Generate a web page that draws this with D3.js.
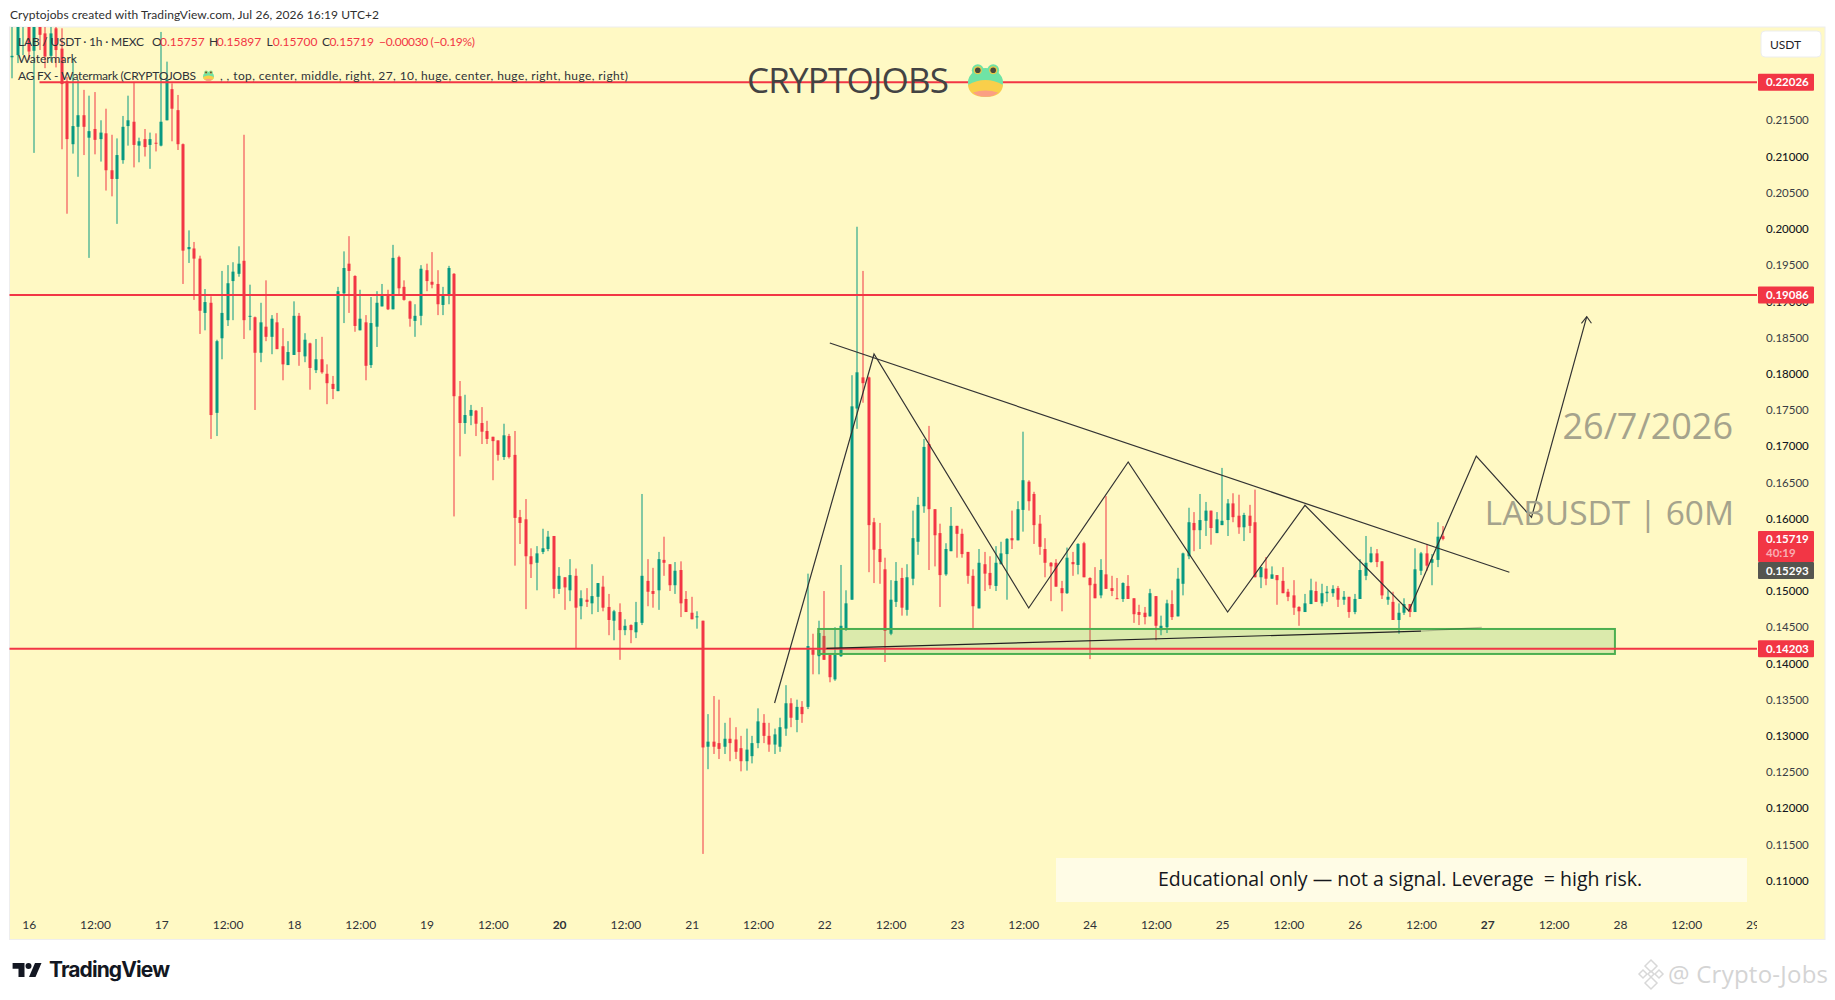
<!DOCTYPE html>
<html lang="en">
<head>
    <meta charset="utf-8">
    <title>LABUSDT 60M</title>
    <script src="https://cdn.jsdelivr.net/npm/d3@7/dist/d3.min.js"></script>
    <style>
        html, body { margin: 0; padding: 0; background: #fff; }
        svg { display: block; }
        text { font-family: Lato, "Open Sans", sans-serif; }
    </style>
</head>
<body>
<div id="chart"></div>
<script>

    // Hourly candles. Hour 0 = day 16 00:00
    var firstHour = -3;

    var opens = [
        0.2237,0.2240,0.2285,0.2279,0.2246,0.2285,0.2270,0.2239,0.2277,0.2249,
        0.2204,0.2117,0.2141,0.2157,0.2126,0.2138,0.2124,0.2132,0.2081,0.2069,
        0.2095,0.2142,0.2148,0.2115,0.2124,0.2116,0.2119,0.2115,0.2150,0.2193,
        0.2164,0.2117,0.1972,0.1973,0.1959,0.1884,0.1898,0.1746,0.1849,0.1874,
        0.1928,0.1938,0.1956,0.1879,0.1878,0.1829,0.1865,0.1851,0.1871,0.1838,
        0.1812,0.1826,0.1880,0.1824,0.1842,0.1805,0.1820,0.1800,0.1786,0.1776,
        0.1911,0.1952,0.1935,0.1860,0.1871,0.1812,0.1865,0.1893,0.1909,0.1889,
        0.1961,0.1920,0.1900,0.1873,0.1880,0.1943,0.1927,0.1924,0.1895,0.1910,
        0.1938,0.1769,0.1732,0.1742,0.1749,0.1732,0.1721,0.1713,0.1708,0.1685,
        0.1714,0.1688,0.1602,0.1599,0.1548,0.1539,0.1554,0.1558,0.1576,0.1503,
        0.1519,0.1501,0.1521,0.1479,0.1488,0.1483,0.1492,0.1506,0.1478,0.1459,
        0.1471,0.1446,0.1453,0.1443,0.1456,0.1514,0.1500,0.1501,0.1543,0.1537,
        0.1508,0.1529,0.1489,0.1470,0.1464,0.1459,0.1285,0.1292,0.1290,0.1285,
        0.1296,0.1295,0.1283,0.1265,0.1272,0.1290,0.1318,0.1300,0.1288,0.1285,
        0.1310,0.1345,0.1322,0.1340,0.1340,0.1419,0.1410,0.1438,0.1412,0.1378,
        0.1410,0.1448,0.1488,0.1752,0.1795,0.1795,0.1595,0.1558,0.1530,0.1441,
        0.1485,0.1518,0.1474,0.1517,0.1568,0.1617,0.1703,0.1613,0.1580,0.1523,
        0.1555,0.1590,0.1579,0.1554,0.1521,0.1476,0.1537,0.1525,0.1507,0.1537,
        0.1551,0.1573,0.1570,0.1612,0.1651,0.1634,0.1593,0.1558,0.1539,0.1539,
        0.1504,0.1497,0.1540,0.1536,0.1566,0.1518,0.1510,0.1494,0.1523,0.1504,
        0.1490,0.1489,0.1507,0.1490,0.1471,0.1470,0.1465,0.1493,0.1446,0.1450,
        0.1482,0.1465,0.1510,0.1548,0.1594,0.1584,0.1597,0.1611,0.1580,0.1591,
        0.1598,0.1621,0.1604,0.1588,0.1604,0.1595,0.1519,0.1531,0.1517,0.1522,
        0.1514,0.1499,0.1494,0.1478,0.1471,0.1482,0.1500,0.1483,0.1497,0.1497,
        0.1504,0.1488,0.1492,0.1471,0.1489,0.1521,0.1540,0.1552,0.1541,0.1488,
        0.1485,0.1460,0.1470,0.1482,0.1471,0.1528,0.1552,0.1539,0.1543,0.15757
    ];
    var highs = [
        0.2300,0.2300,0.2300,0.2295,0.2295,0.2295,0.2290,0.2295,0.2295,0.2277,
        0.2210,0.2236,0.2206,0.2192,0.2184,0.2189,0.2150,0.2166,0.2130,0.2125,
        0.2156,0.2184,0.2203,0.2126,0.2138,0.2133,0.2132,0.2272,0.2231,0.2201,
        0.2185,0.2118,0.1998,0.1982,0.1963,0.1917,0.1907,0.1847,0.1942,0.1950,
        0.1954,0.1976,0.2130,0.1923,0.1879,0.1898,0.1929,0.1881,0.1884,0.1863,
        0.1845,0.1900,0.1884,0.1856,0.1843,0.1848,0.1851,0.1813,0.1797,0.1920,
        0.1969,0.1990,0.1936,0.1916,0.1881,0.1906,0.1914,0.1924,0.1916,0.1978,
        0.1963,0.1929,0.1901,0.1896,0.1950,0.1952,0.1968,0.1943,0.1920,0.1949,
        0.1939,0.1790,0.1771,0.1757,0.1750,0.1754,0.1735,0.1713,0.1708,0.1731,
        0.1717,0.1721,0.1612,0.1627,0.1559,0.1562,0.1586,0.1583,0.1576,0.1533,
        0.1519,0.1544,0.1531,0.1501,0.1504,0.1537,0.1511,0.1521,0.1496,0.1474,
        0.1483,0.1461,0.1454,0.1485,0.1634,0.1544,0.1532,0.1554,0.1575,0.1537,
        0.1540,0.1541,0.1500,0.1492,0.1472,0.1459,0.1330,0.1355,0.1350,0.1318,
        0.1325,0.1312,0.1300,0.1310,0.1300,0.1338,0.1330,0.1318,0.1310,0.1325,
        0.1370,0.1352,0.1350,0.1348,0.1524,0.1441,0.1459,0.1500,0.1412,0.1450,
        0.1536,0.1501,0.1798,0.2003,0.1942,0.1796,0.1601,0.1594,0.1546,0.1515,
        0.1540,0.1532,0.1537,0.1611,0.1630,0.1710,0.1728,0.1613,0.1593,0.1566,
        0.1616,0.1590,0.1586,0.1554,0.1530,0.1558,0.1554,0.1548,0.1562,0.1568,
        0.1573,0.1611,0.1624,0.1720,0.1653,0.1637,0.1605,0.1573,0.1540,0.1544,
        0.1514,0.1560,0.1554,0.1566,0.1568,0.1519,0.1533,0.1544,0.1631,0.1521,
        0.1518,0.1512,0.1522,0.1490,0.1481,0.1478,0.1503,0.1493,0.1466,0.1488,
        0.1501,0.1532,0.1553,0.1615,0.1609,0.1634,0.1623,0.1611,0.1609,0.1670,
        0.1627,0.1635,0.1633,0.1608,0.1619,0.1640,0.1533,0.1547,0.1534,0.1522,
        0.1533,0.1503,0.1515,0.1479,0.1496,0.1517,0.1513,0.1510,0.1507,0.1508,
        0.1507,0.1500,0.1492,0.1496,0.1544,0.1576,0.1561,0.1558,0.1541,0.1501,
        0.1499,0.1483,0.1490,0.1482,0.1559,0.1554,0.1565,0.1551,0.1595,0.15897
    ];
    var lows = [
        0.2208,0.2229,0.2240,0.2233,0.2105,0.2247,0.2222,0.2231,0.2223,0.2110,
        0.2021,0.2104,0.2072,0.2102,0.1960,0.2103,0.2093,0.2053,0.2045,0.2007,
        0.2090,0.2115,0.2085,0.2092,0.2100,0.2083,0.2107,0.2114,0.2150,0.2121,
        0.2109,0.1924,0.1953,0.1902,0.1855,0.1860,0.1710,0.1714,0.1820,0.1866,
        0.1874,0.1934,0.1848,0.1860,0.1750,0.1816,0.1845,0.1827,0.1834,0.1791,
        0.1812,0.1826,0.1811,0.1816,0.1778,0.1801,0.1800,0.1758,0.1765,0.1776,
        0.1870,0.1884,0.1858,0.1860,0.1791,0.1808,0.1837,0.1893,0.1888,0.1889,
        0.1910,0.1901,0.1865,0.1851,0.1867,0.1914,0.1918,0.1881,0.1881,0.1896,
        0.1603,0.1686,0.1717,0.1729,0.1714,0.1703,0.1703,0.1653,0.1680,0.1681,
        0.1683,0.1535,0.1565,0.1475,0.1518,0.1501,0.1551,0.1555,0.1490,0.1496,
        0.1474,0.1486,0.1421,0.1461,0.1478,0.1468,0.1471,0.1472,0.1439,0.1432,
        0.1405,0.1439,0.1428,0.1435,0.1453,0.1479,0.1477,0.1474,0.1521,0.1500,
        0.1496,0.1464,0.1471,0.1461,0.1448,0.1137,0.1254,0.1275,0.1268,0.1275,
        0.1265,0.1268,0.1251,0.1252,0.1262,0.1283,0.1290,0.1278,0.1275,0.1278,
        0.1300,0.1312,0.1305,0.1318,0.1337,0.1385,0.1385,0.1405,0.1374,0.1376,
        0.1409,0.1445,0.1488,0.1724,0.1760,0.1526,0.1511,0.1510,0.1402,0.1439,
        0.1478,0.1466,0.1466,0.1508,0.1550,0.1608,0.1529,0.1534,0.1478,0.1521,
        0.1555,0.1546,0.1546,0.1510,0.1449,0.1476,0.1500,0.1503,0.1500,0.1537,
        0.1488,0.1558,0.1570,0.1582,0.1611,0.1565,0.1550,0.1519,0.1486,0.1506,
        0.1472,0.1496,0.1521,0.1523,0.1519,0.1406,0.1490,0.1490,0.1503,0.1493,
        0.1489,0.1485,0.1489,0.1456,0.1453,0.1454,0.1465,0.1432,0.1439,0.1442,
        0.1460,0.1465,0.1494,0.1544,0.1555,0.1558,0.1576,0.1564,0.1580,0.1591,
        0.1576,0.1595,0.1579,0.1569,0.1580,0.1519,0.1504,0.1508,0.1517,0.1481,
        0.1497,0.1486,0.1467,0.1452,0.1471,0.1482,0.1485,0.1479,0.1485,0.1492,
        0.1478,0.1481,0.1463,0.1468,0.1489,0.1515,0.1539,0.1533,0.1489,0.1481,
        0.1460,0.1441,0.1467,0.1464,0.1471,0.1522,0.1528,0.1508,0.1533,0.15700
    ];
    var closes = [
        0.2239,0.2290,0.2288,0.2245,0.2290,0.2268,0.2238,0.2270,0.2247,0.2200,
        0.2124,0.2142,0.2157,0.2141,0.2135,0.2123,0.2133,0.2081,0.2069,0.2102,
        0.2141,0.2150,0.2116,0.2121,0.2113,0.2124,0.2118,0.2148,0.2206,0.2166,
        0.2117,0.1970,0.1975,0.1959,0.1887,0.1899,0.1743,0.1845,0.1884,0.1925,
        0.1941,0.1952,0.1874,0.1880,0.1829,0.1871,0.1851,0.1876,0.1834,0.1813,
        0.1830,0.1880,0.1830,0.1847,0.1808,0.1820,0.1802,0.1787,0.1779,0.1914,
        0.1946,0.1942,0.1866,0.1876,0.1811,0.1870,0.1898,0.1909,0.1889,0.1960,
        0.1918,0.1902,0.1876,0.1880,0.1945,0.1928,0.1923,0.1896,0.1910,0.1946,
        0.1769,0.1732,0.1743,0.1750,0.1731,0.1720,0.1710,0.1707,0.1688,0.1715,
        0.1685,0.1601,0.1594,0.1548,0.1537,0.1552,0.1559,0.1575,0.1503,0.1521,
        0.1505,0.1522,0.1477,0.1490,0.1485,0.1493,0.1511,0.1477,0.1460,0.1472,
        0.1446,0.1452,0.1446,0.1457,0.1521,0.1499,0.1496,0.1544,0.1539,0.1508,
        0.1528,0.1483,0.1471,0.1461,0.1465,0.1284,0.1292,0.1285,0.1282,0.1296,
        0.1290,0.1278,0.1265,0.1281,0.1290,0.1320,0.1300,0.1288,0.1302,0.1312,
        0.1345,0.1325,0.1340,0.1330,0.1424,0.1412,0.1442,0.1405,0.1381,0.1412,
        0.1452,0.1483,0.1755,0.1802,0.1787,0.1591,0.1557,0.1540,0.1445,0.1488,
        0.1514,0.1477,0.1519,0.1573,0.1619,0.1699,0.1613,0.1577,0.1522,0.1558,
        0.1590,0.1579,0.1551,0.1521,0.1479,0.1539,0.1524,0.1508,0.1539,0.1552,
        0.1572,0.1570,0.1613,0.1653,0.1624,0.1591,0.1561,0.1539,0.1534,0.1506,
        0.1497,0.1546,0.1537,0.1565,0.1519,0.1508,0.1490,0.1529,0.1503,0.1500,
        0.1489,0.1511,0.1489,0.1468,0.1467,0.1464,0.1497,0.1452,0.1452,0.1483,
        0.1464,0.1517,0.1552,0.1595,0.1584,0.1598,0.1611,0.1587,0.1599,0.1597,
        0.1621,0.1602,0.1588,0.1605,0.1590,0.1519,0.1533,0.1517,0.1523,0.1515,
        0.1497,0.1492,0.1477,0.1472,0.1483,0.1501,0.1485,0.1497,0.1499,0.1503,
        0.1488,0.1492,0.1471,0.1489,0.1529,0.1539,0.1552,0.1540,0.1494,0.1492,
        0.1460,0.1470,0.1482,0.1471,0.1530,0.1552,0.1535,0.1544,0.1575,0.15719
    ];

    // Levels and drawings, in hours and prices
    var levelPrices = [0.22026, 0.19086, 0.14203];
    var zigzagHours = [135, 153, 181, 199, 217, 231, 249.8, 262, 272, 282];
    var zigzagPrices = [0.13454, 0.18273, 0.14766, 0.16782, 0.14710, 0.16184, 0.14724, 0.16864, 0.16018, 0.18788];
    var trendHours = [145, 268];
    var trendPrices = [0.18425, 0.15259];
    var floorHours = [144.4, 252];
    var floorPrices = [0.14209, 0.14445];
    var floorFadeHours = [252, 263];
    var floorFadePrices = [0.14445, 0.14499];
    var zoneHours = [142.9, 287.1];
    var zonePrices = [0.14476, 0.14131];

    // 0.155 sits fully under the price tags, so it is not listed
    var priceTicks = [0.11, 0.115, 0.12, 0.125, 0.13, 0.135, 0.14, 0.145, 0.15, 0.16, 0.165, 0.17,
        0.175, 0.18, 0.185, 0.19, 0.195, 0.2, 0.205, 0.21, 0.215];
    var dayLabels = ['16', '17', '18', '19', '20', '21', '22', '23', '24', '25', '26', '27', '28', '29'];
    var boldDays = ['20', '27'];

    var width = 1835,
        height = 1000,
        plotLeft = 9.5,
        plotRight = 1757,
        plotTop = 27,
        plotBottom = 939;

    var red = '#f23645',
        green = '#089981',
        ink = '#333333',
        paper = '#fff9c4';

    var x = d3.scaleLinear().domain([0, 312]).range([28.7, 1752.5]);
    var y = d3.scaleLinear().domain([0.21, 0.11]).range([156.5, 880.7]);

    var svg = d3.select('#chart').append('svg')
        .attr('width', width)
        .attr('height', height);

    var defs = svg.append('defs');
    defs.append('clipPath').attr('id', 'plot-clip').append('rect')
        .attr('x', plotLeft).attr('y', plotTop)
        .attr('width', plotRight - plotLeft).attr('height', plotBottom - plotTop);

    // Page header and panel
    svg.append('text')
        .attr('x', 10).attr('y', 19)
        .attr('font-size', 12).attr('fill', '#2f2f2f')
        .attr('textLength', 369)
        .text('Cryptojobs created with TradingView.com, Jul 26, 2026 16:19 UTC+2');

    svg.append('rect')
        .attr('x', 9.5).attr('y', 27)
        .attr('width', 1815.5).attr('height', 912.5)
        .attr('fill', paper).attr('stroke', '#eeeeee');

    // Candles
    var candles = svg.append('g').attr('clip-path', 'url(#plot-clip)')
        .selectAll('g.candle')
        .data(opens)
        .enter()
        .append('g')
        .attr('class', 'candle')
        .attr('fill', function(d, i) { return closes[i] >= d ? green : red; });

    candles.append('rect')
        .attr('x', function(d, i) { return Math.round(x(firstHour + i)) - 0.5; })
        .attr('width', 1)
        .attr('y', function(d, i) { return y(highs[i]); })
        .attr('height', function(d, i) { return y(lows[i]) - y(highs[i]); });

    candles.append('rect')
        .attr('x', function(d, i) { return Math.round(x(firstHour + i)) - 1.5; })
        .attr('width', 3)
        .attr('y', function(d, i) { return y(Math.max(d, closes[i])); })
        .attr('height', function(d, i) { return Math.max(1, Math.abs(y(d) - y(closes[i]))); });

    // Support zone
    svg.append('rect')
        .attr('x', x(zoneHours[0]))
        .attr('y', y(zonePrices[0]))
        .attr('width', x(zoneHours[1]) - x(zoneHours[0]))
        .attr('height', y(zonePrices[1]) - y(zonePrices[0]))
        .attr('fill', '#4caf50').attr('fill-opacity', 0.2)
        .attr('stroke', '#4caf50').attr('stroke-width', 2);

    // Horizontal levels
    svg.selectAll('line.level')
        .data(levelPrices)
        .enter()
        .append('line')
        .attr('class', 'level')
        .attr('x1', function(d, i) { return i === 0 ? 39.5 : plotLeft; })
        .attr('x2', plotRight)
        .attr('y1', function(d) { return y(d); })
        .attr('y2', function(d) { return y(d); })
        .attr('stroke', red).attr('stroke-width', 2);

    // Hand drawn lines
    var line = d3.line()
        .x(function(d) { return x(d[0]); })
        .y(function(d) { return y(d[1]); });

    svg.append('path')
        .attr('d', line(d3.zip(floorHours, floorPrices)))
        .attr('fill', 'none').attr('stroke', '#222').attr('stroke-width', 1.2);
    svg.append('path')
        .attr('d', line(d3.zip(floorFadeHours, floorFadePrices)))
        .attr('fill', 'none').attr('stroke', '#222').attr('stroke-opacity', 0.25).attr('stroke-width', 1.2);
    svg.append('path')
        .attr('d', line(d3.zip(trendHours, trendPrices)))
        .attr('fill', 'none').attr('stroke', ink).attr('stroke-width', 1.2);
    svg.append('path')
        .attr('d', line(d3.zip(zigzagHours, zigzagPrices)))
        .attr('fill', 'none').attr('stroke', ink).attr('stroke-width', 1.2);

    // Arrow head at the last zigzag point
    var tipX = x(zigzagHours[zigzagHours.length - 1]),
        tipY = y(zigzagPrices[zigzagPrices.length - 1]);
    svg.append('path')
        .attr('d', 'M' + (tipX - 5.3) + ',' + (tipY + 6.6) + 'L' + tipX + ',' + tipY + 'L' + (tipX + 4.7) + ',' + (tipY + 6.6))
        .attr('fill', 'none').attr('stroke', ink).attr('stroke-width', 1.1);

    // Price axis
    var priceAxis = d3.axisRight(y)
        .tickValues(priceTicks)
        .tickSize(0)
        .tickPadding(0)
        .tickFormat(d3.format('.5f'));

    var priceG = svg.append('g')
        .attr('transform', 'translate(1766,0)')
        .call(priceAxis);
    priceG.select('.domain').remove();
    priceG.selectAll('text')
        .attr('font-size', 11.5)
        .style('font-family', 'Lato, sans-serif')
        .attr('fill', function(d) { return Math.abs(d * 100 - Math.round(d * 100)) < 1e-6 ? '#131722' : '#3a3d45'; })
        .attr('font-weight', function(d) { return Math.abs(d * 100 - Math.round(d * 100)) < 1e-6 ? 500 : 400; });

    // Time axis
    var timeTicks = d3.range(0, 312, 12).concat([312]);
    var timeAxis = d3.axisBottom(x)
        .tickValues(timeTicks)
        .tickSize(0)
        .tickPadding(0)
        .tickFormat(function(d) { return d % 24 === 0 ? dayLabels[d / 24] : '12:00'; });

    defs.append('clipPath').attr('id', 'time-clip').append('rect')
        .attr('x', 0).attr('y', 900).attr('width', plotRight).attr('height', 60);

    var timeWrap = svg.append('g').attr('clip-path', 'url(#time-clip)');
    var timeG = timeWrap.append('g')
        .attr('transform', 'translate(0,920)')
        .call(timeAxis);
    timeG.select('.domain').remove();
    timeG.selectAll('text')
        .attr('font-size', 12)
        .style('font-family', 'Lato, sans-serif')
        .attr('fill', '#2f3238')
        .attr('font-weight', function(d) { return boldDays.indexOf(dayLabels[d / 24]) >= 0 ? 700 : 400; });

    // Price tags on the axis
    function priceTag(top, tagHeight, fill, lines) {
        svg.append('rect')
            .attr('x', 1758).attr('y', top)
            .attr('width', 56).attr('height', tagHeight)
            .attr('fill', fill).attr('rx', 1);
        lines.forEach(function(l) {
            svg.append('text')
                .attr('x', 1766).attr('y', l.y)
                .attr('font-size', 11.5).attr('font-weight', 700)
                .attr('fill', '#fff').attr('fill-opacity', l.alpha || 1)
                .text(l.text);
        });
    }

    levelPrices.forEach(function(p) {
        priceTag(y(p) - 8.5, 17, red, [{ y: y(p) + 4.2, text: d3.format('.5f')(p) }]);
    });
    priceTag(531, 31, red, [{ y: 543, text: d3.format('.5f')(closes[closes.length - 1]) },
        { y: 557, text: '40:19', alpha: 0.6 }]);
    priceTag(562, 17, '#55554f', [{ y: 574.5, text: '0.15293' }]);

    // Currency button
    svg.append('rect')
        .attr('x', 1761).attr('y', 31)
        .attr('width', 60).attr('height', 26)
        .attr('rx', 4)
        .attr('fill', '#fff').attr('stroke', '#eceded');
    svg.append('text')
        .attr('x', 1770).attr('y', 48.5)
        .attr('font-size', 12).attr('fill', '#1f2228')
        .text('USDT');

    // Frog drawn with shapes, there is no emoji font
    function frog(cx, cy, w) {
        var g = svg.append('g').attr('transform', 'translate(' + cx + ',' + cy + ') scale(' + w + ')');
        [-0.22, 0.22].forEach(function(ex) {
            g.append('circle').attr('cx', ex).attr('cy', -0.28).attr('r', 0.17).attr('fill', '#6fe3a5');
        });
        g.append('ellipse').attr('cx', 0).attr('cy', 0.07).attr('rx', 0.5).attr('ry', 0.41).attr('fill', '#6fe3a5');
        g.append('path').attr('d', 'M-.5,.14Q0,-.14 .5,.14Q.47,.48 0,.48Q-.47,.48 -.5,.14Z').attr('fill', '#f9cf4a');
        g.append('path').attr('d', 'M-.36,.36Q0,.24 .36,.36Q.25,.48 0,.48Q-.25,.48 -.36,.36Z').attr('fill', '#fb9f83');
        [-0.22, 0.22].forEach(function(ex) {
            g.append('circle').attr('cx', ex).attr('cy', -0.28).attr('r', 0.115).attr('fill', '#e9c84a');
            g.append('circle').attr('cx', ex).attr('cy', -0.28).attr('r', 0.08).attr('fill', '#4a4a3c');
        });
    }

    // Watermarks and notes
    svg.append('text')
        .attr('x', 747).attr('y', 93)
        .attr('font-size', 35).attr('fill', '#434343')
        .style('font-family', '"Open Sans", sans-serif')
        .attr('textLength', 202)
        .text('CRYPTOJOBS');
    frog(985.5, 80, 35);

    svg.append('text')
        .attr('x', 1733).attr('y', 439)
        .attr('text-anchor', 'end')
        .attr('font-size', 36).attr('fill', '#a5a38c')
        .style('font-family', '"Open Sans", sans-serif')
        .text('26/7/2026');
    svg.append('text')
        .attr('x', 1734).attr('y', 525)
        .attr('text-anchor', 'end')
        .attr('font-size', 33.4).attr('fill', '#a5a38c')
        .style('font-family', '"Open Sans", sans-serif')
        .text('LABUSDT | 60M');

    svg.append('rect')
        .attr('x', 1056).attr('y', 858)
        .attr('width', 691).attr('height', 44)
        .attr('fill', '#fffce6');
    svg.append('text')
        .attr('x', 1400).attr('y', 886)
        .attr('text-anchor', 'middle')
        .attr('font-size', 19.5).attr('fill', '#15171c')
        .style('font-family', '"Open Sans", sans-serif')
        .style('white-space', 'pre')
        .text('Educational only — not a signal. Leverage  = high risk.');

    // Legend
    function legend(px, py, text, fill, len) {
        var t = svg.append('text')
            .attr('x', px).attr('y', py)
            .attr('font-size', 12).attr('fill', fill || '#2f3238')
            .text(text);
        if (len) t.attr('textLength', len);
    }
    legend(18, 46, 'LAB / USDT · 1h · MEXC', null, 126);
    legend(152, 46, 'O');
    legend(160, 46, '0.15757', red);
    legend(209, 46, 'H');
    legend(216.7, 46, '0.15897', red);
    legend(266.5, 46, 'L');
    legend(272.8, 46, '0.15700', red);
    legend(322, 46, 'C');
    legend(329.4, 46, '0.15719', red);
    legend(379, 46, '−0.00030 (−0.19%)', red, 96);
    legend(18, 63, 'Watermark');
    legend(18, 80, 'AG FX - Watermark (CRYPTOJOBS', null, 178);
    frog(208.5, 75.5, 11);
    legend(220, 80, ', , top, center, middle, right, 27, 10, huge, center, huge, right, huge, right)', null, 408);

    // TradingView logo
    var logo = svg.append('g').attr('fill', '#131722');
    logo.append('path').attr('d', 'M12.6,963H24.5V977H18.5V968.8H12.6Z');
    logo.append('circle').attr('cx', 28.5).attr('cy', 966).attr('r', 3);
    logo.append('path').attr('d', 'M35,963H41.5L35.5,977H29Z');
    svg.append('text')
        .attr('x', 49).attr('y', 977)
        .attr('font-size', 21).attr('font-weight', 700)
        .attr('fill', '#131722')
        .style('font-family', 'Inter, sans-serif')
        .attr('textLength', 121)
        .text('TradingView');

    // Site mark, bottom right
    var mark = svg.append('g').attr('fill', 'none').attr('stroke', '#d8d8d8').attr('stroke-width', 1.5);
    [[1651, 966, 6], [1643, 974, 4], [1659, 974, 4], [1651, 974, 3], [1651, 983, 6]].forEach(function(m) {
        mark.append('path').attr('d', 'M' + (m[0] - m[2]) + ',' + m[1] + 'L' + m[0] + ',' + (m[1] - m[2]) +
            'L' + (m[0] + m[2]) + ',' + m[1] + 'L' + m[0] + ',' + (m[1] + m[2]) + 'Z');
    });
    svg.append('text')
        .attr('x', 1668).attr('y', 983)
        .attr('font-size', 24).attr('fill', '#d4d4d4')
        .style('font-family', '"Open Sans", sans-serif')
        .attr('textLength', 160)
        .text('@ Crypto-Jobs');
</script>
</body>
</html>
